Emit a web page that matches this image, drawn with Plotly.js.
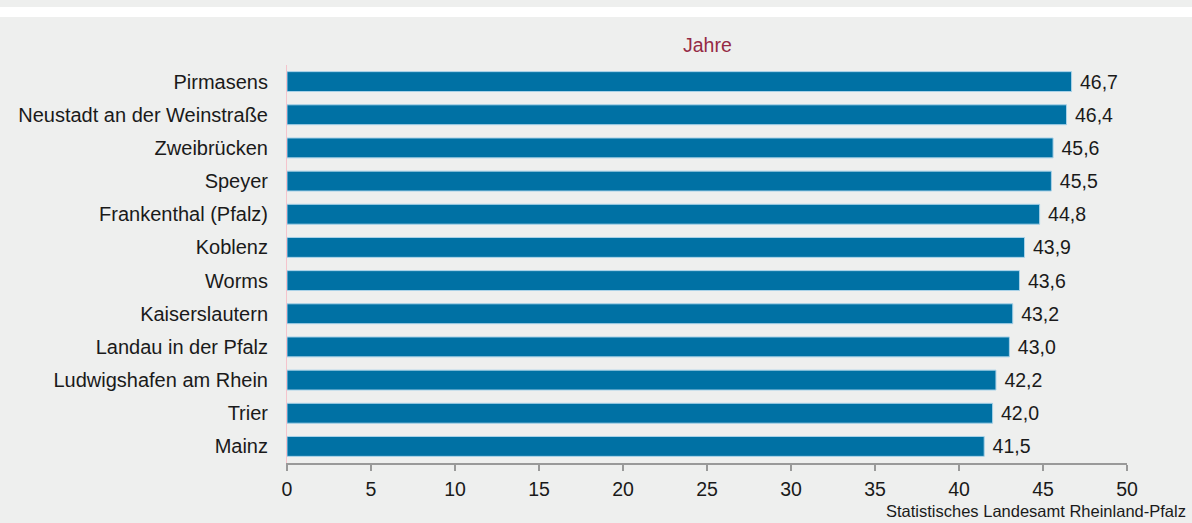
<!DOCTYPE html>
<html><head><meta charset="utf-8">
<script src="https://cdn.plot.ly/plotly-3.0.1.min.js"></script>
<style>
html,body{margin:0;padding:0;background:#eeefee;}
#wrap{position:relative;width:1192px;height:523px;}
#chart{width:1192px;height:523px;}
#strip{position:absolute;left:0;top:7px;width:1192px;height:10px;background:#ffffff;pointer-events:none;}
</style></head>
<body><div id="wrap"><div id="chart"></div><div id="strip"></div></div>
<script>
const cities = ["Pirmasens","Neustadt an der Weinstraße","Zweibrücken","Speyer","Frankenthal (Pfalz)","Koblenz","Worms","Kaiserslautern","Landau in der Pfalz","Ludwigshafen am Rhein","Trier","Mainz"];
const ages = [46.7,46.4,45.6,45.5,44.8,43.9,43.6,43.2,43.0,42.2,42.0,41.5];
const xTicks = [0,5,10,15,20,25,30,35,40,45,50];
const unitLabel = "Jahre";
const sourceLabel = "Statistisches Landesamt Rheinland-Pfalz";

const font = "Liberation Sans, Arial, sans-serif";
Plotly.newPlot("chart", [{
  type: "bar", orientation: "h",
  y: cities, x: ages,
  width: 0.6,
  marker: {color: "#0071a4", line: {color: "#a9d2e8", width: 1}},
  texttemplate: "\u00a0%{x:.1f}", textposition: "outside", constraintext: "none",
  textfont: {family: font, size: 19.5, color: "#1a1a1a"},
  cliponaxis: false, hoverinfo: "none"
}], {
  width: 1192, height: 523,
  margin: {l: 287, r: 65, t: 65, b: 60},
  paper_bgcolor: "#eeefee", plot_bgcolor: "#eeefee",
  separators: ",.",
  showlegend: false,
  xaxis: {range: [0, 50], tickvals: xTicks, showgrid: false, zeroline: false,
    showline: true, linecolor: "#999999", linewidth: 1.5,
    ticks: "outside", ticklen: 6, tickcolor: "#999999", tickwidth: 1.5,
    ticklabelstandoff: 2,
    tickfont: {family: font, size: 19.5, color: "#1a1a1a"}, fixedrange: true},
  yaxis: {autorange: "reversed", showgrid: false, zeroline: false,
    showline: true, linecolor: "#f4c4cc", linewidth: 1,
    ticks: "", ticklabelstandoff: 14,
    tickfont: {family: font, size: 20, color: "#1a1a1a"}, fixedrange: true},
  annotations: [
    {text: unitLabel, xref: "paper", yref: "paper", x: 0.5, y: 1, yshift: 20, yanchor: "middle",
     showarrow: false, font: {family: font, size: 19.5, color: "#952a45"}},
    {text: sourceLabel, xref: "paper", yref: "paper", x: 1, xshift: 61, y: 0, yshift: -48, xanchor: "right", yanchor: "middle",
     showarrow: false, font: {family: font, size: 16.5, color: "#1a1a1a"}}
  ]
}, {staticPlot: true});
</script></body></html>
